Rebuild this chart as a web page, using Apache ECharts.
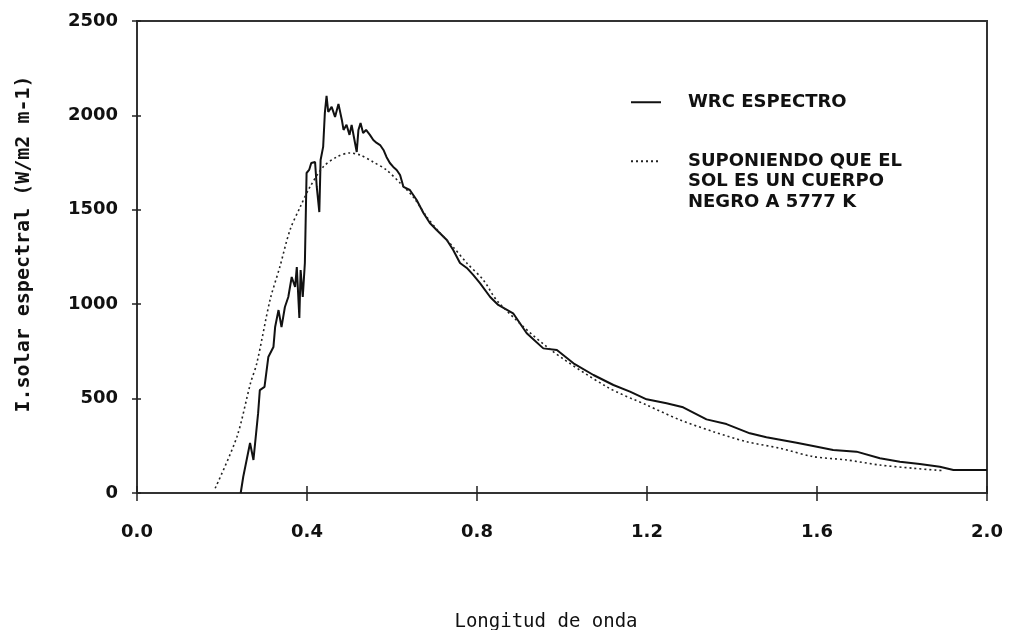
<!DOCTYPE html>
<html>
<head>
<meta charset="utf-8">
<script src="https://cdn.jsdelivr.net/npm/echarts@6/dist/echarts.min.js"></script>
<style>html,body{margin:0;padding:0;background:#fff}#c{width:1011px;height:630px}</style>
</head>
<body>
<div id="c"></div>
<script>
// Data
var wrcX = [0.244,0.25,0.266,0.274,0.285,0.289,0.30,0.309,0.321,0.325,0.333,0.34,0.348,0.356,0.364,0.372,0.376,0.382,0.385,0.39,0.395,0.399,0.405,0.41,0.419,0.423,0.429,0.432,0.438,0.442,0.446,0.45,0.458,0.466,0.474,0.482,0.486,0.493,0.5,0.505,0.513,0.517,0.521,0.526,0.532,0.539,0.548,0.556,0.564,0.572,0.58,0.587,0.595,0.603,0.611,0.619,0.627,0.642,0.658,0.674,0.689,0.705,0.729,0.744,0.76,0.776,0.791,0.807,0.831,0.85,0.885,0.917,0.956,0.988,1.027,1.074,1.121,1.16,1.199,1.246,1.285,1.34,1.387,1.442,1.481,1.552,1.591,1.638,1.693,1.748,1.795,1.842,1.889,1.921,2.0];
var wrcY = [0,86,265,175,423,545,562,720,773,879,969,879,985,1038,1144,1091,1197,927,1181,1038,1218,1695,1711,1748,1753,1621,1488,1764,1833,2013,2103,2018,2045,1992,2061,1976,1923,1950,1897,1950,1854,1806,1923,1960,1907,1923,1897,1870,1854,1843,1817,1780,1748,1727,1711,1684,1621,1605,1552,1483,1430,1393,1340,1287,1218,1192,1155,1112,1038,996,952,846,766,757,687,625,572,537,496,475,454,390,365,316,295,266,249,228,219,184,166,154,139,122,122];
var bbX = [0.184,0.235,0.267,0.282,0.313,0.336,0.36,0.384,0.407,0.438,0.47,0.501,0.525,0.556,0.587,0.619,0.65,0.682,0.713,0.744,0.776,0.815,0.85,0.964,1.105,1.199,1.278,1.356,1.434,1.513,1.591,1.67,1.748,1.827,1.898];
var bbY = [25,297,581,688,1022,1197,1393,1515,1621,1727,1780,1801,1790,1753,1711,1642,1568,1462,1377,1303,1218,1128,1011,775,563,466,387,325,272,237,193,175,148,131,118];
var seriesNames = ['WRC ESPECTRO', 'SUPONIENDO QUE EL\nSOL ES UN CUERPO\nNEGRO A 5777 K'];
var xTitle = 'Longitud de onda';
var yTitle = 'I.solar espectral (W/m2 m-1)';

function pairs(xs, ys){ return xs.map(function(x,i){ return [x, ys[i]]; }); }

var FONT = 'DejaVu Sans';
var MONO = 'DejaVu Sans Mono';
var INK = '#111';
var labelStyle = { fontFamily: FONT, fontWeight: 'bold', fontSize: 18, color: INK };
var legendText = { fontFamily: FONT, fontWeight: 'bold', fontSize: 18, color: INK, lineHeight: 20.5, padding: [0, 0, 0, 22] };

var chart = echarts.init(document.getElementById('c'), null, { renderer: 'canvas' });
chart.setOption({
  backgroundColor: '#fff',
  animation: false,
  grid: { left: 137, right: 24, top: 21, bottom: 137, outerBoundsMode: 'none', containLabel: false,
          show: true, borderColor: '#333', borderWidth: 2, backgroundColor: 'transparent' },
  legend: [
    { data: [seriesNames[0]], orient: 'vertical', left: 625, top: 87, itemWidth: 30, itemHeight: 20, itemGap: 0,
      itemStyle: { opacity: 0 }, textStyle: legendText },
    { data: [seriesNames[1]], orient: 'vertical', left: 625, top: 105, itemWidth: 30, itemHeight: 20, itemGap: 0,
      itemStyle: { opacity: 0 }, textStyle: legendText,
      formatter: function(n){ return '\n\n' + n; } }
  ],
  xAxis: [
    { type: 'value', min: 0, max: 2, interval: 0.4,
      axisLine: { show: true, lineStyle: { color: '#333', width: 2 } },
      axisTick: { show: true, inside: false, length: 8, lineStyle: { color: '#222', width: 1.5 } },
      splitLine: { show: false },
      axisLabel: Object.assign({ margin: 30, formatter: function(v){ return v.toFixed(1); } }, labelStyle),
      name: xTitle, nameLocation: 'middle', nameGap: 120,
      nameTextStyle: { fontFamily: MONO, fontSize: 19, color: INK, padding: [0, 32, 0, 0] } },
    { type: 'value', min: 0, max: 2, interval: 0.4, position: 'bottom',
      axisLine: { show: false }, axisTick: { show: true, inside: true, length: 7, lineStyle: { color: '#222', width: 1.5 } },
      axisLabel: { show: false }, splitLine: { show: false } }
  ],
  yAxis: [
    { type: 'value', min: 0, max: 2500, interval: 500,
      axisLine: { show: true, lineStyle: { color: '#333', width: 2 } },
      axisTick: { show: true, inside: false, length: 5, lineStyle: { color: '#222', width: 1.5 } },
      splitLine: { show: false },
      axisLabel: Object.assign({ margin: 19, formatter: function(v){ return String(v); } }, labelStyle),
      name: yTitle, nameLocation: 'middle', nameGap: 103, nameRotate: 90,
      nameTextStyle: { fontFamily: MONO, fontWeight: 'bold', fontSize: 20, color: INK, padding: [0, 0, 0, 26] } },
    { type: 'value', min: 0, max: 2500, interval: 500, position: 'left',
      axisLine: { show: false }, axisTick: { show: true, inside: true, length: 4, lineStyle: { color: '#222', width: 1.5 } },
      axisLabel: { show: false }, splitLine: { show: false } }
  ],
  series: [
    { name: seriesNames[0], type: 'line', xAxisIndex: 0, yAxisIndex: 0, data: pairs(wrcX, wrcY),
      symbol: 'none', lineStyle: { color: INK, width: 2 }, itemStyle: { color: INK } },
    { name: seriesNames[1], type: 'line', xAxisIndex: 0, yAxisIndex: 0, data: pairs(bbX, bbY), smooth: 0.3,
      symbol: 'none', lineStyle: { color: '#222', width: 1.6, type: [2, 3] }, itemStyle: { color: '#222' } }
  ]
});
</script>
</body>
</html>
